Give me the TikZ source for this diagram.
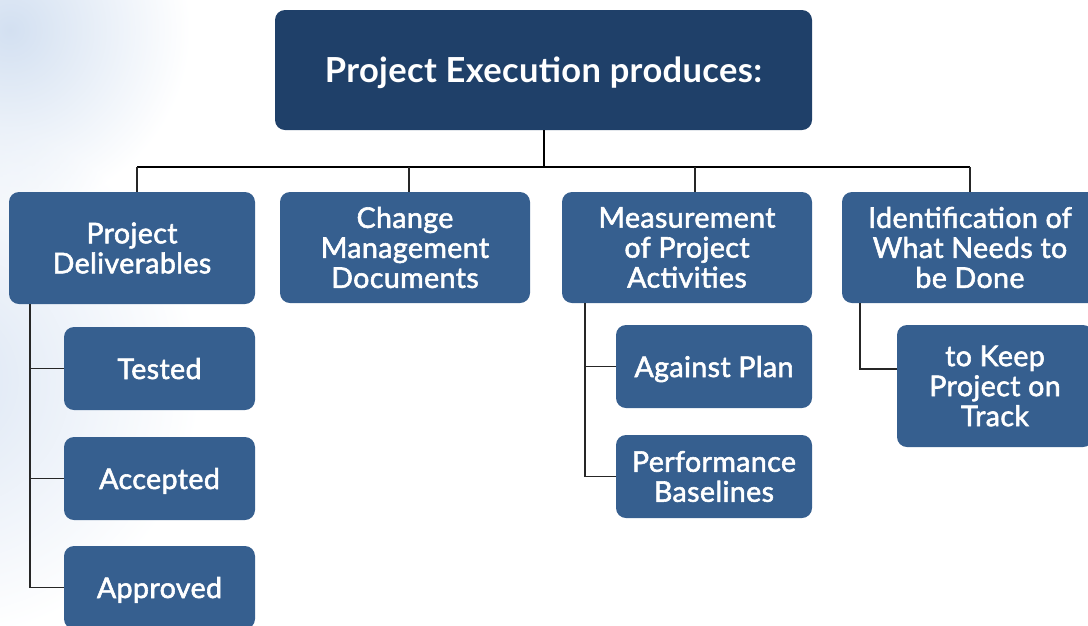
\documentclass[tikz,border=0pt]{standalone}
\usepackage{fontspec}
\usetikzlibrary{fadings}
\setmainfont{Lato}
\newfontfamily\medfont[FakeBold=2,LetterSpace=1.5]{Lato}
\newfontfamily\boldfont[LetterSpace=1]{Lato Bold}
\definecolor{topblue}{HTML}{1F4069}
\definecolor{boxblue}{HTML}{365F8F}
\definecolor{bgblue}{HTML}{D3E0F1}
\tikzfading[name=glow, inner color=transparent!0, outer color=transparent!100]
\begin{document}
\begin{tikzpicture}[x=1pt,y=-1pt,
  topbox/.style={fill=topblue,rounded corners=10pt,text=white,align=center,font=\boldfont\fontsize{34.5}{38}\selectfont,inner sep=0pt,text depth=0pt},
  bbox/.style={fill=boxblue,rounded corners=10pt,text=white,align=center,font=\medfont\fontsize{28.5}{30}\selectfont,inner sep=0pt},
  single/.style={bbox,text depth=0pt},
  bus/.style={line width=2pt,black},
  link/.style={line width=1.2pt,black!85}]
\useasboundingbox (0,0) rectangle (1088,625);
\clip (0,0) rectangle (1088,625);
% background glow
\fill[bgblue,path fading=glow] (10,30) circle (180pt);
\fill[bgblue!80,path fading=glow] (-60,380) circle (260pt);
% boxes
\node[topbox,minimum width=537pt,minimum height=120pt] (top) at (543.5,70) {Project Execution produces:};
\node[bbox,minimum width=246pt,minimum height=112pt] (b1) at (132,248) {Project\\Deliverables};
\node[bbox,minimum width=250pt,minimum height=111pt] (b2) at (405,247.5) {Change\\Management\\Documents};
\node[bbox,minimum width=250pt,minimum height=111pt] (b3) at (687,247.5) {Measurement\\of Project\\Activities};
\node[bbox,minimum width=256pt,minimum height=111pt] (b4) at (970,247.5) {Identification of\\What Needs to\\be Done};
\node[single,minimum width=191pt,minimum height=83pt] (c1) at (159.5,368.5) {Tested};
\node[single,minimum width=191pt,minimum height=83pt] (c2) at (159.5,478.5) {Accepted};
\node[single,minimum width=191pt,minimum height=83pt] (c3) at (159.5,587.5) {Approved};
\node[single,minimum width=196pt,minimum height=83pt] (d1) at (714,366.5) {Against Plan};
\node[bbox,minimum width=196pt,minimum height=83pt] (d2) at (714,476.5) {Performance\\Baselines};
\node[bbox,minimum width=196pt,minimum height=122pt] (e1) at (995,386) {to Keep\\Project on\\Track};
% connectors
\coordinate (busl) at (137,167);
\coordinate (busr) at (970,167);
\draw[bus] (top.south) -- (top.south |- busl);
\draw[bus] (busl) -- (busr);
\draw[link] (busl) -- ([xshift=5pt]b1.north);
\draw[link] ([xshift=4pt]b2.north |- busl) -- ([xshift=4pt]b2.north);
\draw[link] ([xshift=8pt]b3.north |- busl) -- ([xshift=8pt]b3.north);
\draw[link] (busr) -- (b4.north);
\coordinate (l1) at (30,304);
\draw[link] (l1) |- (c3.west);
\draw[link] (l1 |- c1.west) -- (c1.west);
\draw[link] (l1 |- c2.west) -- (c2.west);
\coordinate (l2) at (585,303);
\draw[link] (l2) |- (d2.west);
\draw[link] (l2 |- d1.west) -- (d1.west);
\coordinate (l3) at (860,303);
\draw[link] (l3) |- (e1.west |- 0,369) -- (e1.west |- 0,369);
\end{tikzpicture}
\end{document}
